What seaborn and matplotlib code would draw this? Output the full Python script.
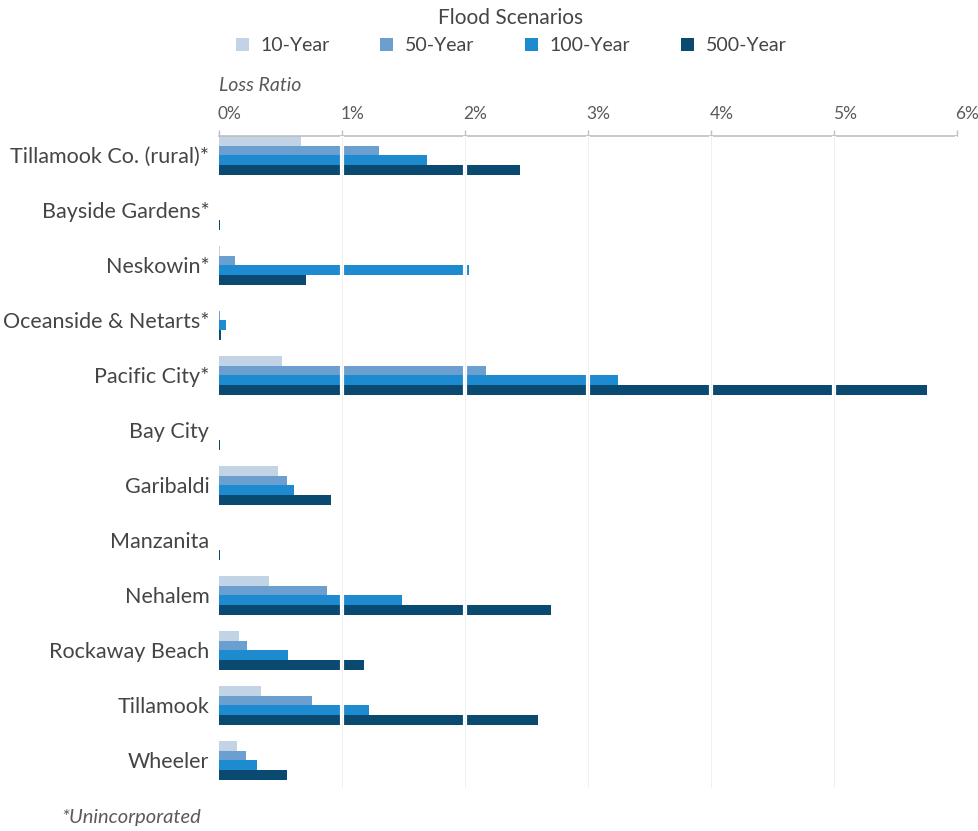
import numpy as np
import pandas as pd
import matplotlib
matplotlib.use("Agg")
import matplotlib.pyplot as plt
import matplotlib.transforms as mtrans
import seaborn as sns

# ---- dados (razão de perda, em %) ----
places = ["Tillamook Co. (rural)*", "Bayside Gardens*", "Neskowin*", "Oceanside & Netarts*",
          "Pacific City*", "Bay City", "Garibaldi", "Manzanita", "Nehalem",
          "Rockaway Beach", "Tillamook", "Wheeler"]
scenarios = ["10-Year", "50-Year", "100-Year", "500-Year"]

yr10  = [0.67, 0.0, 0.01, 0.0,  0.51, 0.0, 0.48, 0.0, 0.41, 0.16, 0.34, 0.15]
yr50  = [1.30, 0.0, 0.13, 0.01, 2.17, 0.0, 0.55, 0.0, 0.88, 0.23, 0.76, 0.22]
yr100 = [1.69, 0.0, 2.03, 0.06, 3.24, 0.0, 0.61, 0.0, 1.49, 0.56, 1.22, 0.31]
yr500 = [2.45, 0.01, 0.71, 0.02, 5.76, 0.01, 0.91, 0.01, 2.70, 1.18, 2.59, 0.55]

cores = ["#c3d3e6", "#6a9fcf", "#1e8ad0", "#0b4a70"]

df = pd.DataFrame({
    "place": places * 4,
    "scenario": np.repeat(scenarios, len(places)),
    "ratio": yr10 + yr50 + yr100 + yr500,
})

sns.set_style("white")
plt.rcParams["font.family"] = ["Lato", "DejaVu Sans"]
texto = "#454545"
cinza = "#5a5a5a"

fig = plt.figure(figsize=(9.79, 8.31), dpi=100)
ax = fig.add_axes([0.2237, 0.052, 0.7538, 0.7843])

sns.barplot(data=df, y="place", x="ratio", hue="scenario", orient="h",
            order=places, hue_order=scenarios, palette=cores,
            width=0.7, gap=0, errorbar=None, saturation=1, linewidth=0,
            ax=ax, zorder=2)

# grade: branca por cima das barras, bem clara no fundo
for v in range(1, 7):
    ax.axvline(v, color="white", lw=3, zorder=3)
    ax.axvline(v, color="#f0f0f0", lw=0.7, zorder=4)

ax.set_xlim(0, 6)
ax.set_ylim(11.5, -0.35)
ax.xaxis.tick_top()
ax.set_xticks(range(7))
ax.set_xticklabels([f"{v}%" for v in range(7)], ha="left")
ax.tick_params(axis="x", direction="out", length=4.3, width=1, color="#bfbfbf", pad=5.5,
               labelsize=12.5, labelcolor=cinza)
offset = mtrans.ScaledTranslation(-1 / 72, 0, fig.dpi_scale_trans)
for lbl in ax.get_xticklabels():
    lbl.set_transform(lbl.get_transform() + offset)
ax.tick_params(axis="y", length=0, pad=7, labelsize=15.5, labelcolor=texto)
ax.set_xlabel("")
ax.set_ylabel("")

for s in ["right", "bottom", "left"]:
    ax.spines[s].set_visible(False)
ax.spines["top"].set_color("#bfbfbf")
ax.spines["top"].set_linewidth(1.2)

handles, labels = ax.get_legend_handles_labels()
ax.get_legend().remove()
leg = fig.legend(handles, labels, loc="upper center", bbox_to_anchor=(0.522, 1.012),
                 ncol=4, frameon=False, title="Flood Scenarios", fontsize=14,
                 title_fontsize=15, handlelength=0.67, handleheight=0.67,
                 columnspacing=2.6, handletextpad=0.6, labelcolor=texto)
leg.get_title().set_color(texto)

fig.text(0.2237, 0.897, "Loss Ratio", style="italic", fontsize=14, color=cinza,
         ha="left", va="center")
fig.text(0.063, 0.016, "*Unincorporated", style="italic", fontsize=14.5, color=cinza,
         ha="left", va="center")

plt.savefig("out.png", dpi=100)
plt.close()
